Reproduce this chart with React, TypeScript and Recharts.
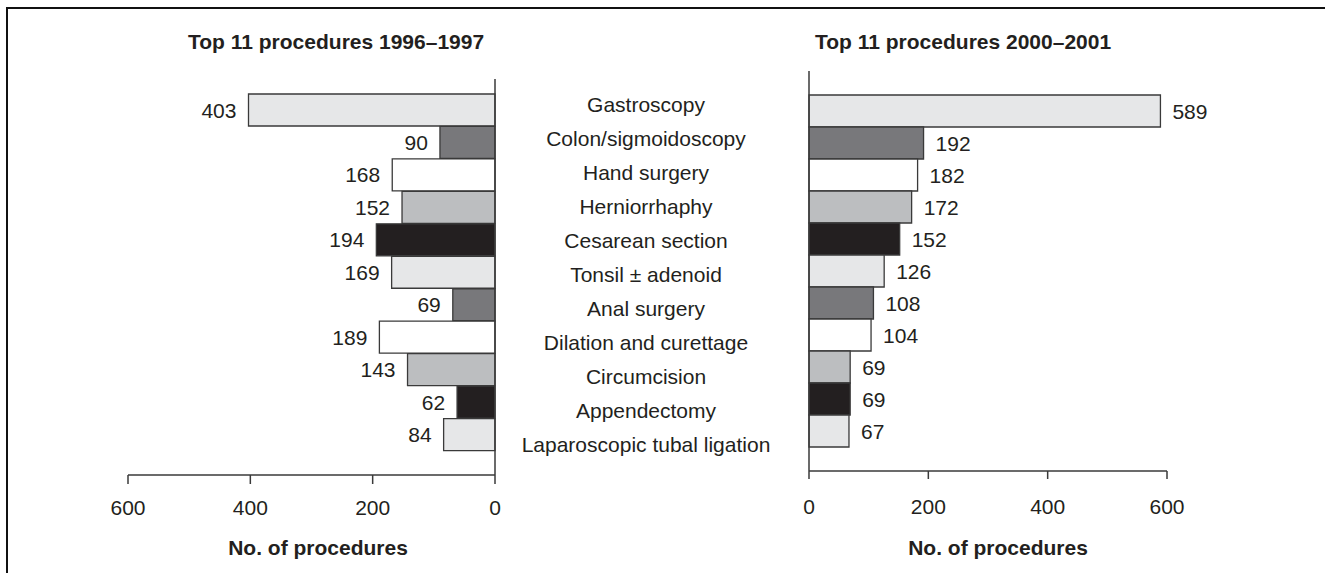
import { BarChart, Bar, XAxis, YAxis, Cell, LabelList } from 'recharts';

const categories = [
    'Gastroscopy',
    'Colon/sigmoidoscopy',
    'Hand surgery',
    'Herniorrhaphy',
    'Cesarean section',
    'Tonsil ± adenoid',
    'Anal surgery',
    'Dilation and curettage',
    'Circumcision',
    'Appendectomy',
    'Laparoscopic tubal ligation',
];
const procedures9697 = [403, 90, 168, 152, 194, 169, 69, 189, 143, 62, 84];
const procedures0001 = [589, 192, 182, 172, 152, 126, 108, 104, 69, 69, 67];
const xTicks = [0, 200, 400, 600];
const barFills = ['#e6e7e8', '#78787b', '#ffffff', '#bcbec0', '#231f20'];

const data = categories.map((name, i) => ({
    name,
    early: procedures9697[i],
    late: procedures0001[i],
}));

const font = 'Liberation Sans, Arial, Helvetica, sans-serif';
const ink = '#231f20';
const line = '#3a3a3a';

function CenterTick(props: any) {
    const { x, y, payload } = props;
    return (
        <text x={x + 151} y={y} textAnchor="middle" dominantBaseline="central" fontSize={21} fontFamily={font} fill={ink}>
            {payload.value}
        </text>
    );
}

function ValueLabel(props: any, side: 'left' | 'right') {
    const vb = props.viewBox || props;
    const x = vb.x ?? props.x;
    const y = vb.y ?? props.y;
    const w = vb.width ?? props.width;
    const h = vb.height ?? props.height;
    const lo = Math.min(x, x + w);
    const hi = Math.max(x, x + w);
    return (
        <text
            x={side === 'left' ? lo - 12 : hi + 12}
            y={y + h / 2}
            textAnchor={side === 'left' ? 'end' : 'start'}
            dominantBaseline="central"
            fontSize={21}
            fontFamily={font}
            fill={ink}
        >
            {props.value}
        </text>
    );
}

const tickStyle = { fontSize: 21, fontFamily: font, fill: ink };

function App() {
    return (
        <div style={{ position: 'absolute', left: 0, top: 0, width: 1325, height: 573, background: '#fff', overflow: 'hidden' }}>
            <div style={{ position: 'absolute', left: 6, top: 7, width: 1319, height: 566, borderTop: '2px solid #111', borderLeft: '2px solid #111', boxSizing: 'border-box' }} />

            <div style={{ position: 'absolute', left: 0, top: 0 }}>
                <BarChart width={810} height={573} data={data} layout="vertical" margin={{ top: 79, right: 0, bottom: 38, left: 128 }} barCategoryGap={0}>
                    <XAxis type="number" domain={[0, 600]} ticks={xTicks} reversed height={60}
                        axisLine={{ stroke: line, strokeWidth: 1.5 }} tickLine={{ stroke: line, strokeWidth: 1.5 }}
                        tickSize={9} tickMargin={16} tick={tickStyle} />
                    <YAxis type="category" dataKey="name" hide padding={{ top: 15, bottom: 24 }} />
                    <YAxis yAxisId="lab" type="category" dataKey="name" orientation="right" width={315}
                        padding={{ top: 8, bottom: 13 }} axisLine={{ stroke: line, strokeWidth: 1.5 }}
                        tickLine={false} tickSize={0} tickMargin={0} tick={<CenterTick />} interval={0} />
                    <Bar dataKey="early" isAnimationActive={false} stroke={line} strokeWidth={1.3}>
                        {data.map((d, i) => (
                            <Cell key={d.name} fill={barFills[i % barFills.length]} />
                        ))}
                        <LabelList dataKey="early" content={(p: any) => ValueLabel(p, 'left')} />
                    </Bar>
                </BarChart>
            </div>

            <div style={{ position: 'absolute', left: 790, top: 0 }}>
                <BarChart width={535} height={573} data={data} layout="vertical" margin={{ top: 71, right: 158, bottom: 42, left: 0 }} barCategoryGap={0}>
                    <XAxis type="number" domain={[0, 600]} ticks={xTicks} height={60}
                        axisLine={{ stroke: line, strokeWidth: 1.5 }} tickLine={{ stroke: line, strokeWidth: 1.5 }}
                        tickSize={8} tickMargin={20} tick={tickStyle} />
                    <YAxis type="category" dataKey="name" width={19} padding={{ top: 24, bottom: 24 }}
                        axisLine={{ stroke: line, strokeWidth: 1.5 }} tick={false} tickLine={false} />
                    <Bar dataKey="late" isAnimationActive={false} stroke={line} strokeWidth={1.3}>
                        {data.map((d, i) => (
                            <Cell key={d.name} fill={barFills[i % barFills.length]} />
                        ))}
                        <LabelList dataKey="late" content={(p: any) => ValueLabel(p, 'right')} />
                    </Bar>
                </BarChart>
            </div>

            <svg width={1325} height={573} style={{ position: 'absolute', left: 0, top: 0, pointerEvents: 'none' }}>
                <g fontFamily={font} fontSize={21} fontWeight="bold" fill={ink}>
                    <text x={188} y={49}>Top 11 procedures 1996–1997</text>
                    <text x={815} y={49}>Top 11 procedures 2000–2001</text>
                    <text x={318} y={555} textAnchor="middle">No. of procedures</text>
                    <text x={998} y={555} textAnchor="middle">No. of procedures</text>
                </g>
            </svg>
        </div>
    );
}

export default App;
